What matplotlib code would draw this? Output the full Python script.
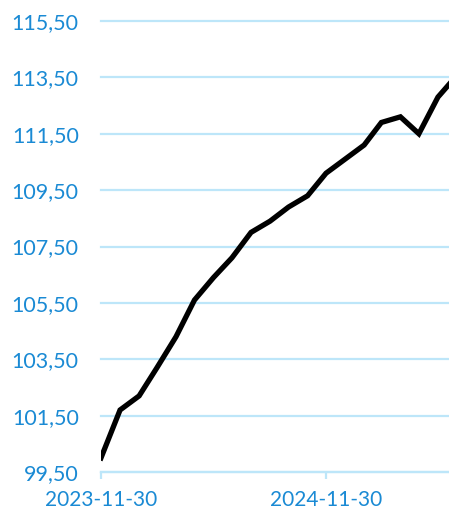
import matplotlib
matplotlib.use("Agg")
import matplotlib.pyplot as plt
import matplotlib.dates as mdates
import matplotlib.ticker as mticker
import pandas as pd
import numpy as np

dates = pd.date_range("2023-11-30", "2025-06-30", freq="ME")
values = [100.0, 101.7, 102.2, 103.2, 104.3, 105.6, 106.4, 107.1, 108.0, 108.4,
          108.9, 109.3, 110.1, 110.6, 111.1, 111.9, 112.1, 111.5, 112.8, 113.55]
y_ticks = [99.5, 101.5, 103.5, 105.5, 107.5, 109.5, 111.5, 113.5, 115.5]
x_ticks = ["2023-11-30", "2024-11-30"]

grid_c = "#bde6f9"
text_c = "#1a8ad4"

plt.rcParams["font.family"] = ["Lato", "DejaVu Sans"]

fig = plt.figure(figsize=(4.49, 5.12), dpi=100)
ax = fig.add_axes([101/449, 40/512, 348/449, 451/512])
ax.plot(dates, values, color="black", lw=3.8, solid_joinstyle="miter", clip_on=True, zorder=3)

ax.set_ylim(99.5, 115.5)
ax.set_yticks(y_ticks)
ax.yaxis.set_major_formatter(mticker.FuncFormatter(lambda v, p: f"{v:.2f}".replace(".", ",")))
x0 = mdates.date2num(pd.Timestamp("2023-11-30"))
ax.set_xlim(x0, x0 + 566)
ax.set_xticks([mdates.date2num(pd.Timestamp(d)) for d in x_ticks])
ax.set_xticklabels(x_ticks)

ax.grid(axis="y", color=grid_c, lw=1.6, zorder=0)
for gl in ax.get_ygridlines():
    gl.set_clip_on(False)
for s in ["top", "right", "left"]:
    ax.spines[s].set_visible(False)
ax.spines["bottom"].set_color(grid_c)
ax.spines["bottom"].set_linewidth(1.6)
ax.tick_params(axis="y", length=0, pad=16, labelsize=15.5, labelcolor=text_c)
ax.tick_params(axis="x", length=5, width=1.6, color=grid_c, pad=8, labelsize=15, labelcolor=text_c)

fig.savefig("out.png", dpi=100)
